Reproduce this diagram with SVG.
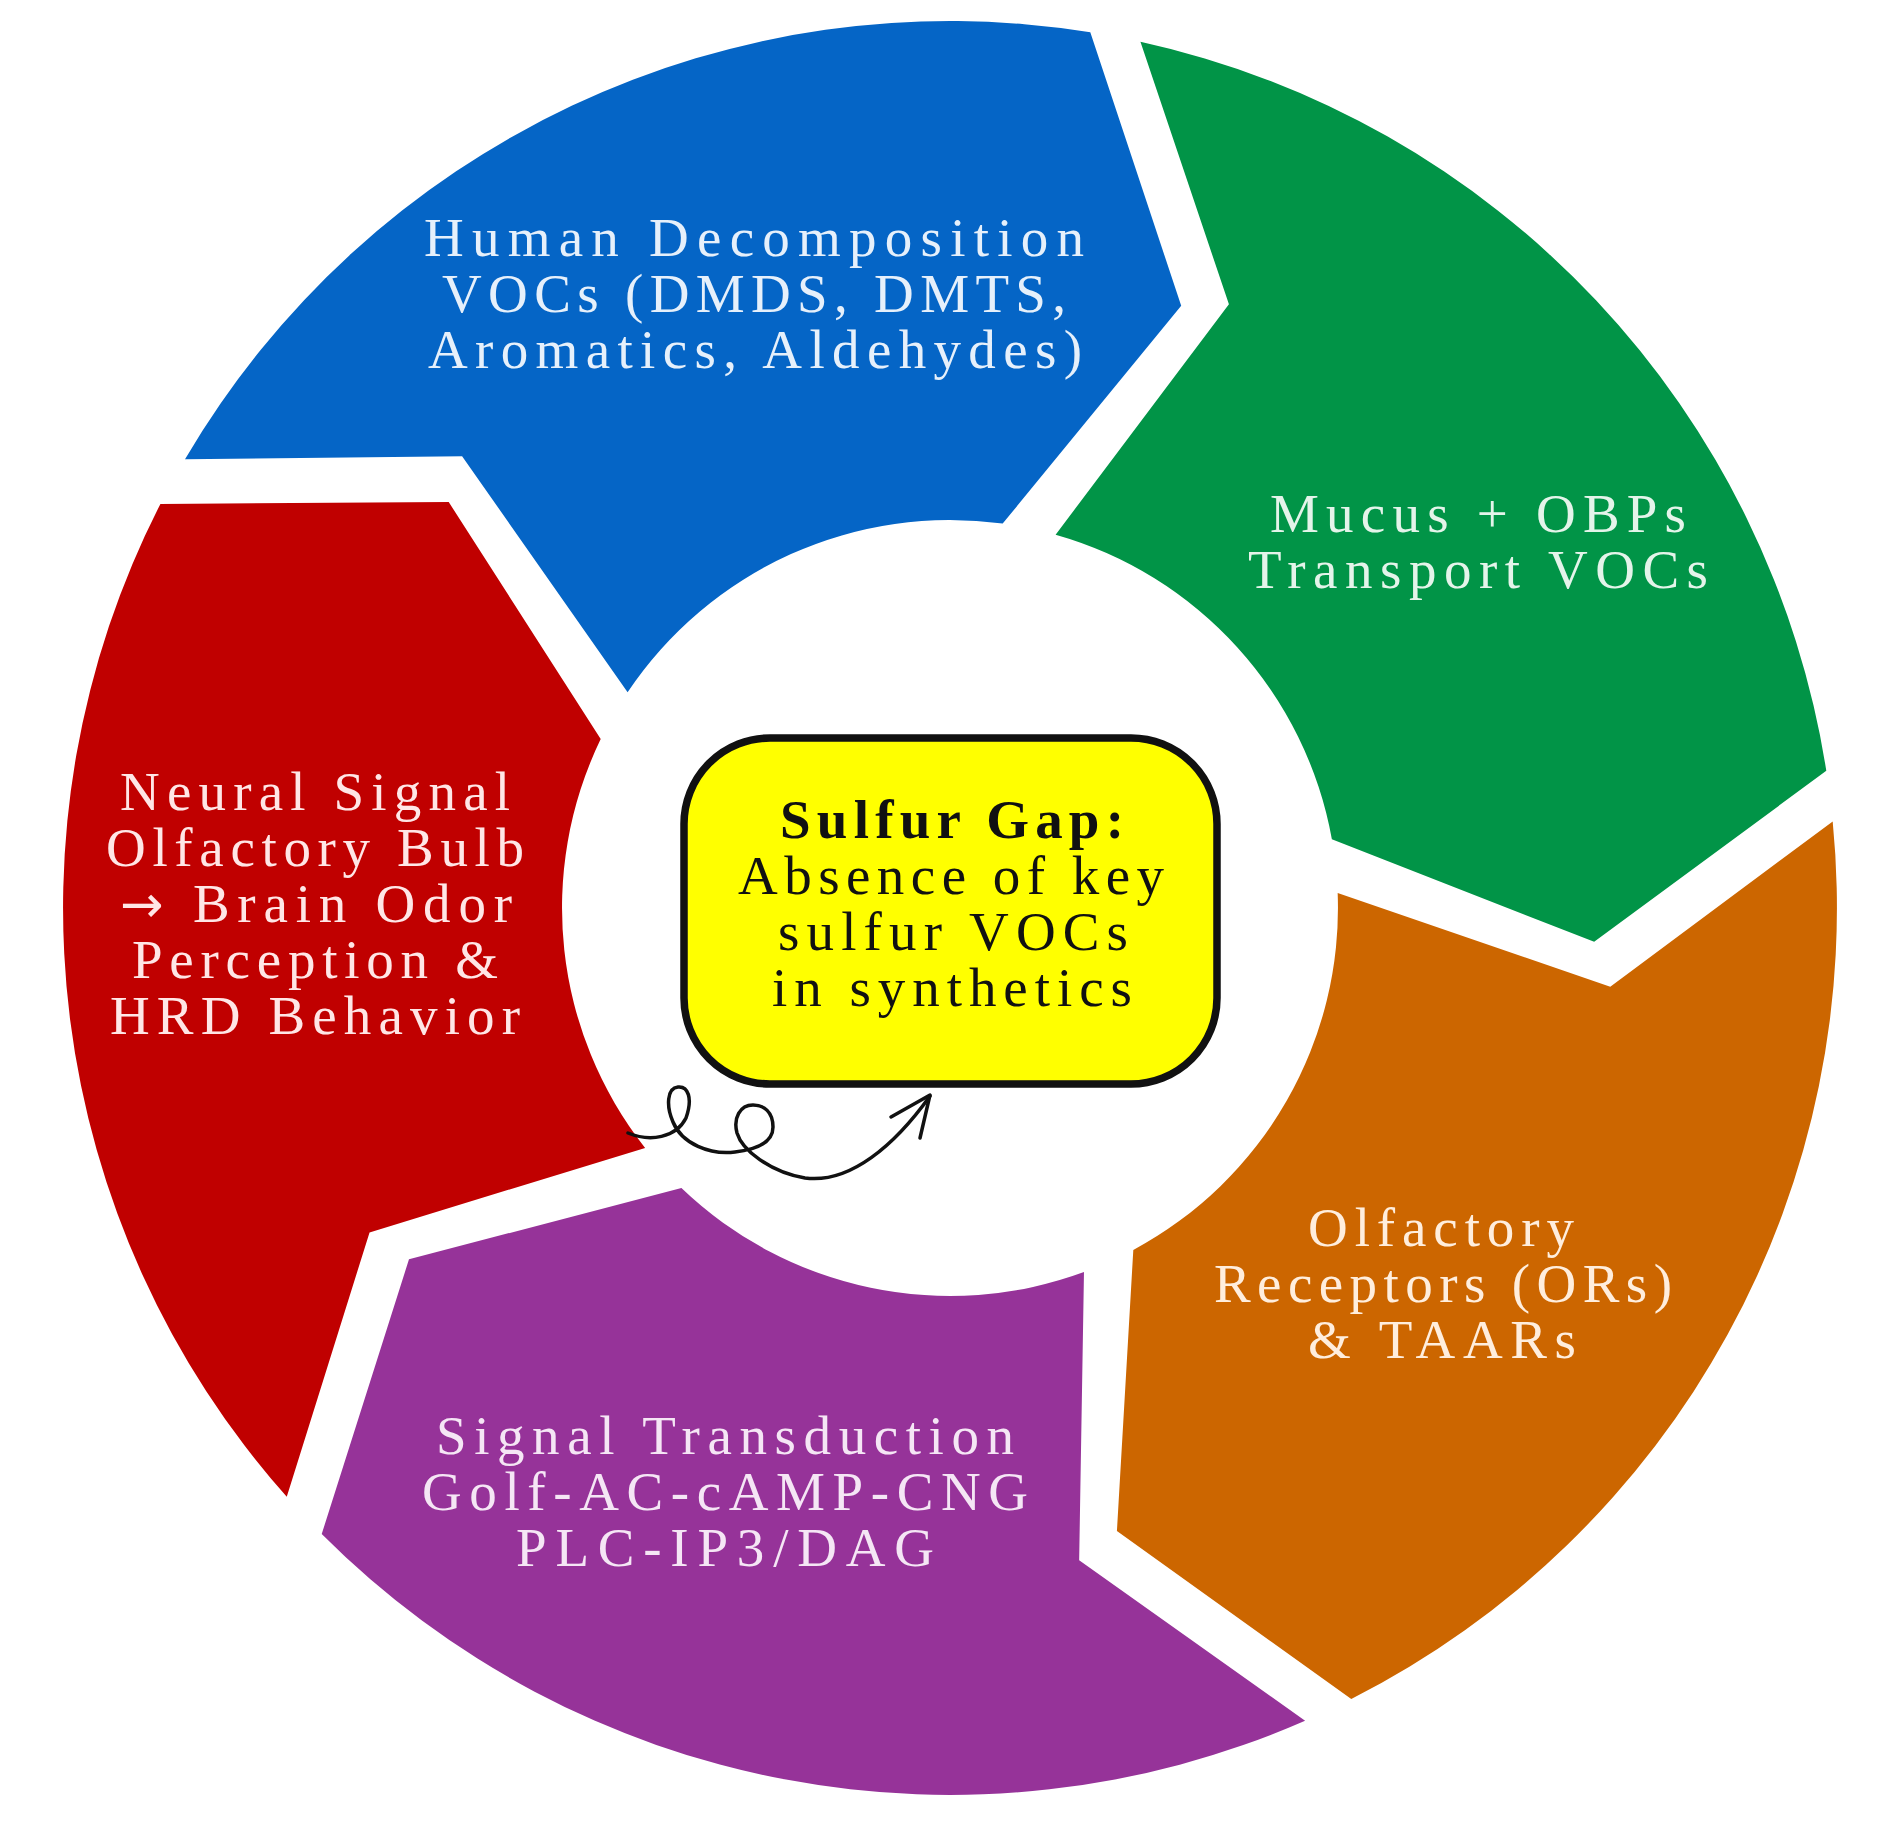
<svg xmlns="http://www.w3.org/2000/svg" xmlns:xlink="http://www.w3.org/1999/xlink" width="1881" height="1839" viewBox="0 0 1881 1839">
<style>
.lbl{font-family:"Liberation Serif","DejaVu Serif",serif;font-size:55px;text-anchor:middle}
.box{font-family:"Liberation Serif","DejaVu Serif",serif;font-size:55px;text-anchor:middle;fill:#111}
.arw{font-family:"DejaVu Sans",sans-serif;font-size:52px}
.curl{fill:none;stroke:#111;stroke-width:3.5;stroke-linecap:round;stroke-linejoin:round}
</style>
<defs>
<path id="seg" d="M 185.0 459.2 L 462.1 456.2 L 627.6 692.2 A 388 388 0 0 1 1002.7 523.6 L 1181.2 305.8 L 1090.3 32.2 A 887 887 0 0 0 185.0 459.2 Z"/>
</defs>
<rect width="1881" height="1839" fill="#fff"/>
<g id="node-decomposition">
<use xlink:href="#seg" fill="#0565C6"/>
<text class="lbl" fill="#E6F0FB"><tspan x="754" y="256" textLength="660" lengthAdjust="spacing">Human Decomposition</tspan><tspan x="754" y="312" textLength="624" lengthAdjust="spacing">VOCs (DMDS, DMTS,</tspan><tspan x="755" y="368" textLength="654" lengthAdjust="spacing">Aromatics, Aldehydes)</tspan></text>
</g>
<g id="node-mucus">
<use xlink:href="#seg" fill="#019447" transform="rotate(72 950 908)"/>
<text class="lbl" fill="#E4F4EA"><tspan x="1478" y="532" textLength="416" lengthAdjust="spacing">Mucus + OBPs</tspan><tspan x="1478" y="588" textLength="460" lengthAdjust="spacing">Transport VOCs</tspan></text>
</g>
<g id="node-receptors">
<use xlink:href="#seg" fill="#CC6600" transform="rotate(144 950 908)"/>
<text class="lbl" fill="#FFEEDD"><tspan x="1441" y="1246" textLength="266" lengthAdjust="spacing">Olfactory</tspan><tspan x="1443" y="1302" textLength="458" lengthAdjust="spacing">Receptors (ORs)</tspan><tspan x="1442" y="1358" textLength="268" lengthAdjust="spacing">&amp; TAARs</tspan></text>
</g>
<g id="node-transduction">
<use xlink:href="#seg" fill="#963399" transform="rotate(216 950 908)"/>
<text class="lbl" fill="#F5E6F5"><tspan x="725" y="1454" textLength="578" lengthAdjust="spacing">Signal Transduction</tspan><tspan x="725" y="1510" textLength="606" lengthAdjust="spacing">Golf-AC-cAMP-CNG</tspan><tspan x="725" y="1566" textLength="418" lengthAdjust="spacing">PLC-IP3/DAG</tspan></text>
</g>
<g id="node-neural">
<use xlink:href="#seg" fill="#C00000" transform="rotate(288 950 908)"/>
<text class="lbl" fill="#FFE6E6"><tspan x="315" y="810" textLength="390" lengthAdjust="spacing">Neural Signal</tspan><tspan x="315" y="866" textLength="418" lengthAdjust="spacing">Olfactory Bulb</tspan><tspan x="316" y="922" textLength="392" lengthAdjust="spacing"><tspan class="arw">→</tspan> Brain Odor</tspan><tspan x="315" y="978" textLength="366" lengthAdjust="spacing">Perception &amp;</tspan><tspan x="315" y="1034" textLength="410" lengthAdjust="spacing">HRD Behavior</tspan></text>
</g>
<g id="node-sulfur-gap">
<rect x="684" y="738" width="533" height="346" rx="86" ry="86" fill="#FFFF00" stroke="#111" stroke-width="7.5"/>
<text class="box"><tspan x="952" y="838" font-weight="bold" textLength="344" lengthAdjust="spacing">Sulfur Gap:</tspan><tspan x="951" y="894" textLength="426" lengthAdjust="spacing">Absence of key</tspan><tspan x="953" y="950" textLength="350" lengthAdjust="spacing">sulfur VOCs</tspan><tspan x="952" y="1006" textLength="360" lengthAdjust="spacing">in synthetics</tspan></text>
</g>
<g id="connectors">
<path class="curl" d="M 628 1133 C 650 1142, 676 1138, 686 1118 C 693 1098, 688 1086, 678 1087 C 667 1088, 666 1106, 673 1122 C 682 1144, 710 1155, 735 1152 C 752 1150, 773 1145, 773 1127 C 773 1112, 764 1105, 753 1105 C 740 1105, 733 1118, 737 1133 C 742 1150, 770 1172, 805 1178 C 850 1184, 895 1145, 930 1096"/>
<path class="curl" d="M 891 1117 L 930 1095 L 920 1138"/>
</g>
</svg>
